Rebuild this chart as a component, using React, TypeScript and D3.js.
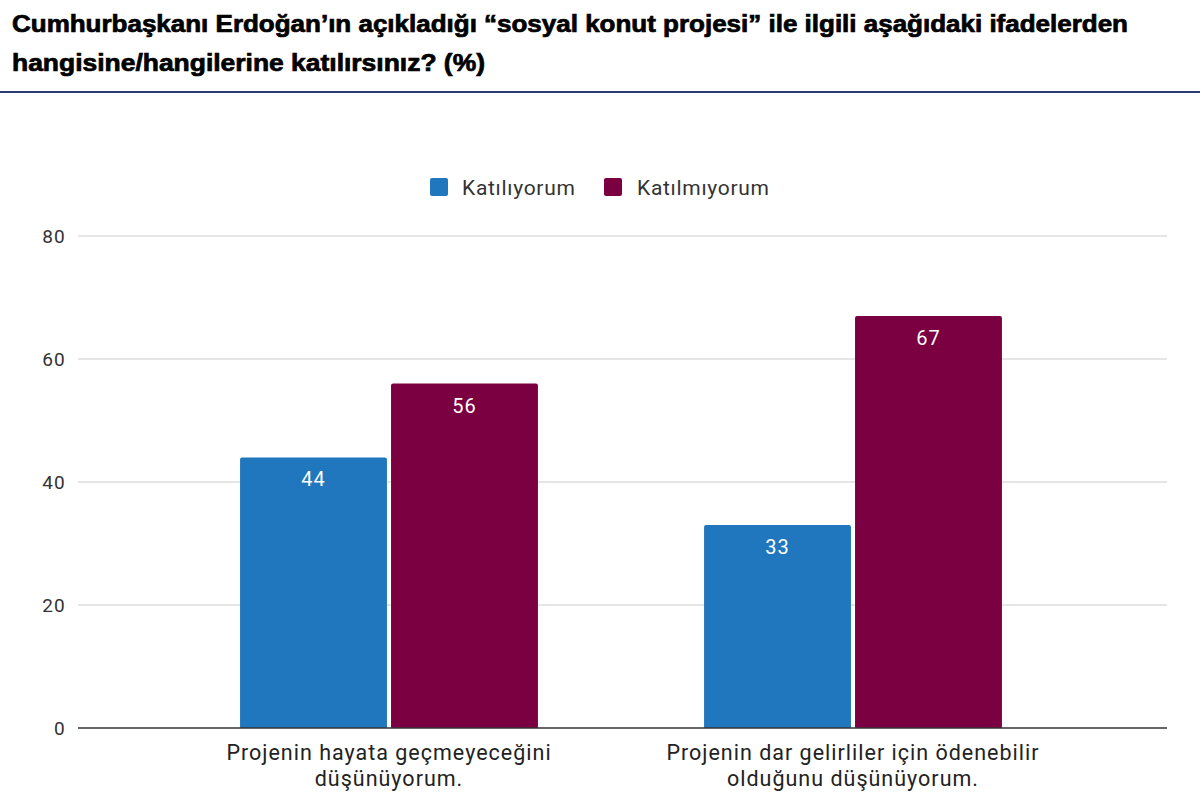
import { scaleBand, scaleLinear } from "d3";

const categories = [
  ["Projenin hayata geçmeyeceğini", "düşünüyorum."],
  ["Projenin dar gelirliler için ödenebilir", "olduğunu düşünüyorum."],
];
const seriesNames = ["Katılıyorum", "Katılmıyorum"];
const katiliyorum = [44, 33];
const katilmiyorum = [56, 67];
const yTicks = [0, 20, 40, 60, 80];
const titleLines = [
  "Cumhurbaşkanı Erdoğan’ın açıkladığı “sosyal konut projesi” ile ilgili aşağıdaki ifadelerden",
  "hangisine/hangilerine katılırsınız? (%)",
];

const colors = ["#2077BE", "#7A0042"];
const font = "Roboto, 'Noto Sans', sans-serif";

export default function App() {
  const width = 1200;
  const height = 802;
  const plot = { left: 78, right: 1167, top: 236, bottom: 728 };

  const y = scaleLinear().domain([0, 80]).range([plot.bottom, plot.top]);
  const catKeys = categories.map((c) => c.join(" "));
  const x0 = scaleBand<string>().domain(catKeys).range([157, 1085]).paddingInner(0.358).paddingOuter(0.179);
  const x1 = scaleBand<string>().domain(seriesNames).range([0, x0.bandwidth()]).paddingInner(0.027);
  const series = [katiliyorum, katilmiyorum];

  return (
    <svg
      width={width}
      height={height}
      viewBox={`0 0 ${width} ${height}`}
      style={{ position: "absolute", left: 0, top: 0, background: "#fff" }}
    >
      <rect width={width} height={height} fill="#fff" />
      <g
        fontFamily="'Liberation Sans', Arial, sans-serif"
        fontWeight={900}
        fontSize={23}
        fill="#000"
        stroke="#000"
        strokeWidth={0.7}
      >
        <text x={12} y={32} textLength={1116} lengthAdjust="spacingAndGlyphs">{titleLines[0]}</text>
        <text x={12} y={71} textLength={473} lengthAdjust="spacingAndGlyphs">{titleLines[1]}</text>
      </g>
      <line x1={0} x2={width} y1={92} y2={92} stroke="#2E3A73" strokeWidth={2} />

      {/* legend */}
      <g fontFamily={font} fontSize={21} fill="#333" letterSpacing={0.7}>
        <rect x={430} y={178} width={18} height={18} rx={2} fill={colors[0]} />
        <text x={462} y={195}>{seriesNames[0]}</text>
        <rect x={604} y={178} width={18} height={18} rx={2} fill={colors[1]} />
        <text x={637} y={195}>{seriesNames[1]}</text>
      </g>

      {/* grid */}
      {yTicks.map((t) => (
        <g key={t}>
          {t !== 0 && (
            <line x1={plot.left} x2={plot.right} y1={y(t)} y2={y(t)} stroke="#cccccc" strokeWidth={1} />
          )}
          <text x={66} y={y(t) + 7} textAnchor="end" fontFamily={font} fontSize={19} letterSpacing={1.2} fill="#333">
            {t}
          </text>
        </g>
      ))}

      {/* bars */}
      {catKeys.map((c, i) => (
        <g key={c} transform={`translate(${x0(c)},0)`}>
          {seriesNames.map((s, j) => {
            const v = series[j][i];
            const bx = x1(s) ?? 0;
            return (
              <g key={s}>
                <path
                  d={`M${bx},${y(0)} V${y(v) + 2} Q${bx},${y(v)} ${bx + 2},${y(v)} H${bx + x1.bandwidth() - 2} Q${bx + x1.bandwidth()},${y(v)} ${bx + x1.bandwidth()},${y(v) + 2} V${y(0)} Z`}
                  fill={colors[j]}
                />
                <text
                  x={bx + x1.bandwidth() / 2}
                  y={y(v) + 29}
                  textAnchor="middle"
                  fontFamily={font}
                  fontSize={20}
                  letterSpacing={1}
                  fill="#fff"
                >
                  {v}
                </text>
              </g>
            );
          })}
        </g>
      ))}

      <line x1={plot.left} x2={plot.right} y1={y(0)} y2={y(0)} stroke="#333" strokeWidth={1.5} />

      {/* category labels */}
      {categories.map((lines, i) => (
        <text
          key={i}
          x={(x0(catKeys[i]) ?? 0) + x0.bandwidth() / 2}
          textAnchor="middle"
          fontFamily={font}
          fontSize={21.5}
          letterSpacing={1}
          fill="#222"
        >
          {lines.map((l, k) => (
            <tspan key={k} x={(x0(catKeys[i]) ?? 0) + x0.bandwidth() / 2} y={760 + k * 26}>
              {l}
            </tspan>
          ))}
        </text>
      ))}
    </svg>
  );
}
